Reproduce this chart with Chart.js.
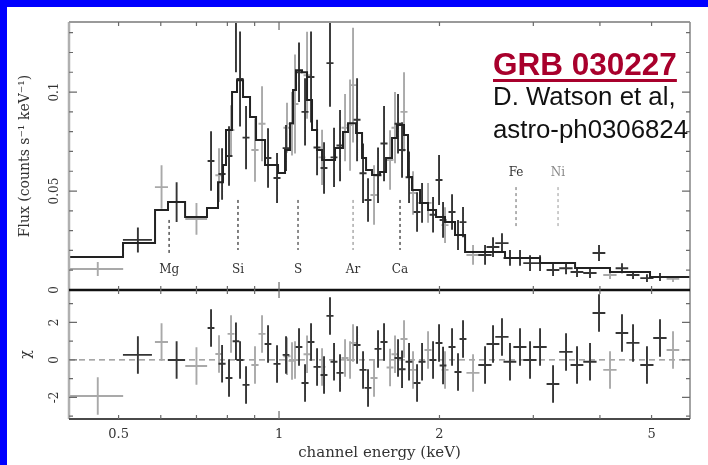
<!DOCTYPE html>
<html>
<head>
<meta charset="utf-8">
<script src="https://cdn.jsdelivr.net/npm/chart.js@4/dist/chart.umd.min.js"></script>
<style>
  html, body { margin: 0; padding: 0; background: #fff; }
  #wrap { position: relative; width: 708px; height: 465px; overflow: hidden; background: #fff; }
  #plot { position: absolute; left: 0; top: 0; filter: blur(0.6px); }
  .band-top { position: absolute; left: 0; top: 0; width: 708px; height: 7px; background: #0000ff; }
  .band-left { position: absolute; left: 0; top: 0; width: 7px; height: 465px; background: #0000ff; }
  .tag { position: absolute; left: 493px; font-family: "Liberation Sans", Arial, sans-serif; white-space: nowrap; }
  #grb { top: 49px; font-size: 31.5px; line-height: 31px; font-weight: bold; color: #a8002c;
         text-decoration: underline; text-decoration-thickness: 3px; text-underline-offset: 4px; }
  #cite { top: 80px; font-size: 25.8px; line-height: 32.5px; color: #111; }
</style>
</head>
<body>
<div id="wrap">
  <canvas id="plot" width="708" height="465"></canvas>
  <div class="band-top"></div>
  <div class="band-left"></div>
  <div class="tag" id="grb">GRB 030227</div>
  <div class="tag" id="cite">D. Watson et al,<br>astro-ph0306824</div>
</div>
<script>
// ---- EPIC pn spectrum (keV, counts s^-1 keV^-1) ----
const pnEnergy = [0.5435, 0.6425, 0.7455, 0.7819, 0.8057, 0.8303, 0.8450, 0.8672, 0.9536, 0.9914,
  1.0307, 1.0902, 1.1189, 1.1483, 1.1786, 1.2146, 1.2464, 1.2682, 1.3015, 1.4010,
  1.4376, 1.4689, 1.5337, 1.5740, 1.6721, 1.7013, 1.7535, 1.8154, 1.8550, 1.9453,
  1.9963, 2.0311, 2.1116, 2.1668, 2.2142, 2.4352, 2.5206, 2.6202, 2.7123, 2.8323,
  2.9576, 3.0884, 3.2668, 3.4552, 3.6233, 3.8325, 3.9844, 4.4004, 4.6150, 4.9018,
  5.1856];
const pnFlux = [0.0253, 0.0444, 0.0652, 0.0586, 0.0677, 0.1400, 0.1066, 0.0770, 0.0667, 0.0566,
  0.0717, 0.1100, 0.0900, 0.1076, 0.0720, 0.0616, 0.1146, 0.0670, 0.0730, 0.0860,
  0.0590, 0.0455, 0.0580, 0.0740, 0.0840, 0.0707, 0.0570, 0.0394, 0.0440, 0.0380,
  0.0556, 0.0354, 0.0394, 0.0278, 0.0343, 0.0177, 0.0217, 0.0237, 0.0162, 0.0162,
  0.0136, 0.0136, 0.0101, 0.0110, 0.0091, 0.0086, 0.0187, 0.0110, 0.0076, 0.0060,
  0.0066];
const pnFluxErr = [0.0063, 0.0100, 0.0150, 0.0130, 0.0150, 0.0300, 0.0240, 0.0160, 0.0150, 0.0126,
  0.0116, 0.0150, 0.0170, 0.0230, 0.0140, 0.0130, 0.0220, 0.0150, 0.0180, 0.0210,
  0.0150, 0.0110, 0.0140, 0.0190, 0.0150, 0.0140, 0.0130, 0.0100, 0.0100, 0.0090,
  0.0126, 0.0090, 0.0090, 0.0076, 0.0076, 0.0050, 0.0050, 0.0050, 0.0040, 0.0040,
  0.0040, 0.0040, 0.0030, 0.0030, 0.0025, 0.0025, 0.0040, 0.0025, 0.0020, 0.0020,
  0.0020];
const pnHalfWidth = [0.034, 0.024, 0.011, 0.012, 0.012, 0.012, 0.013, 0.013, 0.014, 0.015,
  0.015, 0.016, 0.017, 0.017, 0.018, 0.018, 0.019, 0.019, 0.020, 0.021,
  0.022, 0.022, 0.023, 0.024, 0.025, 0.026, 0.026, 0.027, 0.028, 0.029,
  0.030, 0.030, 0.032, 0.033, 0.033, 0.070, 0.070, 0.075, 0.075, 0.080,
  0.085, 0.090, 0.090, 0.100, 0.100, 0.110, 0.110, 0.120, 0.130, 0.140,
  0.150];
const pnResidual = [0.27, 0.00, 1.70, -0.20, -0.96, 1.00, 0.00, -1.33, 0.85, -0.21,
  0.27, 0.69, -1.23, 0.96, -0.37, -0.80, 2.35, -0.10, -0.69, 0.80,
  -0.53, -1.49, 0.59, 0.96, 0.10, -0.50, -0.10, -1.23, -0.10, 0.00,
  0.90, -0.30, 0.69, -0.64, 1.12, -0.27, 0.85, 1.23, -0.10, 0.69,
  0.00, 0.69, -1.28, 0.43, -0.27, -0.10, 2.50, 1.44, 0.91, -0.27,
  1.17];

// ---- EPIC MOS spectrum ----
const mosEnergy = [0.457, 0.602, 0.700, 0.7716, 0.8127, 0.9014, 0.9292, 1.0351, 1.0577, 1.0715,
  1.1287, 1.2043, 1.3300, 1.3591, 1.3768, 1.5075, 1.6155, 1.6505, 1.7160, 1.7841,
  1.9037, 2.0486, 2.3121, 4.1783, 5.4854];
const mosFlux = [0.0106, 0.0520, 0.0359, 0.0580, 0.0808, 0.0707, 0.0840, 0.0820, 0.0840, 0.0940,
  0.1085, 0.0670, 0.0820, 0.0833, 0.1035, 0.0480, 0.0657, 0.0820, 0.0900, 0.0490,
  0.0440, 0.0328, 0.0177, 0.0076, 0.0056];
const mosFluxErr = [0.0035, 0.0110, 0.0080, 0.0136, 0.0126, 0.0160, 0.0190, 0.0126, 0.0160, 0.0250,
  0.0220, 0.0140, 0.0170, 0.0230, 0.0290, 0.0150, 0.0150, 0.0180, 0.0200, 0.0110,
  0.0100, 0.0090, 0.0050, 0.0020, 0.0015];
const mosHalfWidth = [0.053, 0.017, 0.033, 0.012, 0.012, 0.014, 0.014, 0.016, 0.016, 0.016,
  0.017, 0.018, 0.020, 0.020, 0.021, 0.023, 0.024, 0.025, 0.026, 0.027,
  0.029, 0.031, 0.065, 0.120, 0.150];
const mosResidual = [-1.92, 0.96, -0.32, 0.32, 1.39, -0.27, 1.39, 0.20, -0.05, 0.00,
  0.30, -0.37, 0.10, 0.00, 0.91, -0.96, -0.40, 0.30, 1.12, -0.53,
  0.53, -0.53, -0.69, -0.53, 0.53];

// ---- folded model: bin edges (keV) and level in each bin ----
const modelEdges = [0.4036, 0.5097, 0.5853, 0.6190, 0.6664, 0.7326, 0.7683, 0.7851, 0.7953, 0.8163,
  0.8340, 0.8560, 0.8823, 0.9055, 0.9413, 0.9957, 1.0263, 1.0487, 1.0624, 1.0762,
  1.1045, 1.1287, 1.1532, 1.1786, 1.2043, 1.2737, 1.3184, 1.3473, 1.3949, 1.4314,
  1.4564, 1.4945, 1.5471, 1.5877, 1.6293, 1.6649, 1.7160, 1.7459, 1.7764, 1.8390,
  1.9037, 1.9706, 2.0486, 2.1390, 2.2338, 2.6548, 3.0884, 3.5929, 4.1783, 4.9668,
  5.9030];
const modelFlux = [0.0167, 0.0237, 0.0404, 0.0444, 0.0369, 0.0414, 0.0545, 0.0631, 0.0808, 0.1000,
  0.1060, 0.0975, 0.0874, 0.0758, 0.0631, 0.0591, 0.0707, 0.0843, 0.1010, 0.1110,
  0.1100, 0.0960, 0.0808, 0.0707, 0.0657, 0.0717, 0.0798, 0.0843, 0.0793, 0.0667,
  0.0606, 0.0581, 0.0596, 0.0667, 0.0768, 0.0833, 0.0783, 0.0571, 0.0505, 0.0439,
  0.0404, 0.0369, 0.0343, 0.0278, 0.0192, 0.0162, 0.0136, 0.0111, 0.0091, 0.0066];

// ---- redshifted emission lines (keV) ----
const lineNames = ['Mg', 'Si', 'S', 'Ar', 'Ca', 'Fe', 'Ni'];
const lineEnergies = [0.622, 0.8375, 1.0855, 1.377, 1.6866, 2.784, 3.338];

// ---- axes ----
const energyRange = [0.4036, 5.903];
const energyTickLabels = [0.5, 1, 2, 5];
const energyMinorTicks = [0.5, 0.6, 0.7, 0.8, 0.9, 1, 2, 3, 4, 5];
const fluxRange = [0, 0.1354];
const fluxTickLabels = [0, 0.05, 0.1];
const chiRange = [-3.15, 3.73];
const chiTickLabels = [-2, 0, 2];

const DARK = '#353535';
const GREY = '#a9a9a9';
const SERIF = '"DejaVu Serif", "Liberation Serif", serif';

const toPoints = (xs, ys) => xs.map((x, i) => ({ x: x, y: ys[i] }));

const modelPoints = [];
modelFlux.forEach((f, i) => {
  modelPoints.push({ x: modelEdges[i], y: f });
  modelPoints.push({ x: modelEdges[i + 1], y: f });
});

// marker layout for the line identifications: [top, bottom, label] in flux units
const markerStyle = {
  Mg: { span: [0.0354, 0.0187], label: 0.0101, color: '#555' },
  Si: { span: [0.0455, 0.0202], label: 0.0101, color: '#555' },
  S:  { span: [0.0455, 0.0202], label: 0.0101, color: '#666' },
  Ar: { span: [0.0455, 0.0202], label: 0.0101, color: '#aaa' },
  Ca: { span: [0.0455, 0.0202], label: 0.0101, color: '#555' },
  Fe: { span: [0.0520, 0.0318], label: 0.0590, color: '#999' },
  Ni: { span: [0.0520, 0.0318], label: 0.0590, color: '#bbb' }
};

function drawErrorBars(chart) {
  const ctx = chart.ctx;
  const x = chart.scales.x;
  chart.data.datasets.forEach(ds => {
    if (ds.yErr === undefined) return;
    const y = chart.scales[ds.yAxisID];
    ctx.save();
    ctx.beginPath();
    ctx.rect(x.left, y.top, x.right - x.left, y.bottom - y.top);
    ctx.clip();
    ctx.strokeStyle = ds.barColor;
    ctx.lineWidth = 1.9;
    ctx.beginPath();
    ds.data.forEach((p, k) => {
      const hw = ds.xErr[k];
      const e = Array.isArray(ds.yErr) ? ds.yErr[k] : ds.yErr;
      const px = x.getPixelForValue(p.x);
      const py = y.getPixelForValue(p.y);
      ctx.moveTo(x.getPixelForValue(p.x - hw), py);
      ctx.lineTo(x.getPixelForValue(p.x + hw), py);
      ctx.moveTo(px, y.getPixelForValue(p.y - e));
      ctx.lineTo(px, y.getPixelForValue(p.y + e));
    });
    ctx.stroke();
    ctx.restore();
  });
}

const spectrumPanels = {
  id: 'spectrumPanels',
  beforeDatasetsDraw(chart) {
    const { ctx, scales: { x, yFlux, yChi } } = chart;
    ctx.save();
    // chi = 0 reference
    ctx.strokeStyle = '#8a8a8a';
    ctx.lineWidth = 1.3;
    ctx.setLineDash([6, 4]);
    const y0 = yChi.getPixelForValue(0);
    ctx.beginPath();
    ctx.moveTo(x.left, y0);
    ctx.lineTo(x.right, y0);
    ctx.stroke();
    // line identifications
    ctx.setLineDash([3, 3]);
    ctx.lineWidth = 1.5;
    ctx.font = '12px ' + SERIF;
    ctx.textAlign = 'center';
    ctx.textBaseline = 'middle';
    lineNames.forEach((name, i) => {
      const st = markerStyle[name];
      const px = x.getPixelForValue(lineEnergies[i]);
      ctx.strokeStyle = st.color;
      ctx.beginPath();
      ctx.moveTo(px, yFlux.getPixelForValue(st.span[0]));
      ctx.lineTo(px, yFlux.getPixelForValue(st.span[1]));
      ctx.stroke();
      ctx.fillStyle = name === 'Ni' ? '#888' : '#333';
      ctx.fillText(name, px, yFlux.getPixelForValue(st.label));
    });
    ctx.restore();
    drawErrorBars(chart);
  },
  afterDatasetsDraw(chart) {
    const { ctx, scales: { x, yFlux, yChi } } = chart;
    ctx.save();
    // frame
    const seg = (x1, y1, x2, y2, c, w) => {
      ctx.strokeStyle = c; ctx.lineWidth = w;
      ctx.beginPath(); ctx.moveTo(x1, y1); ctx.lineTo(x2, y2); ctx.stroke();
    };
    seg(x.left, yFlux.top, x.left, yChi.bottom, '#b0b0b0', 2.5);
    seg(x.left, yFlux.top, x.right, yFlux.top, '#9a9a9a', 2);
    seg(x.right, yFlux.top, x.right, yChi.bottom, '#8c8c8c', 1.6);
    seg(x.left, yChi.bottom, x.right, yChi.bottom, '#4a4a4a', 2);
    seg(x.left, yFlux.bottom, x.right, yFlux.bottom, '#111', 2.5);
    // inward tick marks
    ctx.strokeStyle = '#6a6a6a';
    ctx.lineWidth = 1.2;
    ctx.beginPath();
    energyMinorTicks.forEach(v => {
      const px = x.getPixelForValue(v);
      const len = v === 1 ? 8 : 4;
      ctx.moveTo(px, yFlux.top); ctx.lineTo(px, yFlux.top + len);
      ctx.moveTo(px, yFlux.bottom - len); ctx.lineTo(px, yFlux.bottom + len);
      ctx.moveTo(px, yChi.bottom); ctx.lineTo(px, yChi.bottom - len);
    });
    for (let k = 1; k <= 13; k++) {
      const py = yFlux.getPixelForValue(k / 100);
      const len = k % 5 === 0 ? 8 : 4;
      ctx.moveTo(x.left, py); ctx.lineTo(x.left + len, py);
      ctx.moveTo(x.right, py); ctx.lineTo(x.right - len, py);
    }
    for (let k = -3; k <= 3; k++) {
      const py = yChi.getPixelForValue(k);
      const len = k % 2 === 0 ? 8 : 4;
      ctx.moveTo(x.left, py); ctx.lineTo(x.left + len, py);
      ctx.moveTo(x.right, py); ctx.lineTo(x.right - len, py);
    }
    ctx.stroke();
    // rotated y tick labels
    ctx.font = '12px ' + SERIF;
    ctx.fillStyle = '#333';
    ctx.textAlign = 'center';
    ctx.textBaseline = 'middle';
    const rotLabel = (txt, py) => {
      ctx.save();
      ctx.translate(55, py);
      ctx.rotate(-Math.PI / 2);
      ctx.fillText(txt, 0, 0);
      ctx.restore();
    };
    fluxTickLabels.forEach(v => rotLabel(String(v), yFlux.getPixelForValue(v)));
    chiTickLabels.forEach(v => rotLabel(String(v), yChi.getPixelForValue(v)));
    ctx.restore();
  }
};

Chart.defaults.color = '#333';

new Chart(document.getElementById('plot'), {
  type: 'scatter',
  data: {
    datasets: [
      { label: 'model', data: modelPoints, yAxisID: 'yFlux', showLine: true,
        borderColor: '#222', borderWidth: 2, pointRadius: 0, fill: false },
      { label: 'MOS', data: toPoints(mosEnergy, mosFlux), yAxisID: 'yFlux', pointRadius: 0,
        xErr: mosHalfWidth, yErr: mosFluxErr, barColor: GREY },
      { label: 'pn', data: toPoints(pnEnergy, pnFlux), yAxisID: 'yFlux', pointRadius: 0,
        xErr: pnHalfWidth, yErr: pnFluxErr, barColor: DARK },
      { label: 'MOS residual', data: toPoints(mosEnergy, mosResidual), yAxisID: 'yChi', pointRadius: 0,
        xErr: mosHalfWidth, yErr: 1, barColor: GREY },
      { label: 'pn residual', data: toPoints(pnEnergy, pnResidual), yAxisID: 'yChi', pointRadius: 0,
        xErr: pnHalfWidth, yErr: 1, barColor: DARK }
    ]
  },
  options: {
    responsive: false,
    animation: false,
    events: [],
    layout: { padding: { left: 0, right: 18, top: 22, bottom: 0 } },
    plugins: { legend: { display: false }, tooltip: { enabled: false } },
    scales: {
      x: {
        type: 'logarithmic', position: 'bottom',
        min: energyRange[0], max: energyRange[1],
        grid: { display: false, drawTicks: false },
        border: { display: false },
        afterBuildTicks: s => { s.ticks = energyTickLabels.map(v => ({ value: v })); },
        afterFit: s => { s.height = 46; },
        ticks: { autoSkip: false, maxRotation: 0, padding: 8, color: '#333',
                 font: { family: SERIF, size: 13 }, callback: v => String(v) },
        title: { display: true, text: 'channel energy (keV)', color: '#333',
                 font: { family: SERIF, size: 15 }, padding: { top: 0, bottom: 3 } }
      },
      yChi: {
        type: 'linear', position: 'left', stack: 'panels', stackWeight: 129,
        min: chiRange[0], max: chiRange[1],
        grid: { display: false, drawTicks: false }, border: { display: false },
        ticks: { display: false },
        afterFit: s => { s.width = 69; },
        title: { display: true, text: 'χ', color: '#333',
                 font: { family: SERIF, size: 14 }, padding: { top: 18, bottom: 0 } }
      },
      yFlux: {
        type: 'linear', position: 'left', stack: 'panels', stackWeight: 268,
        min: fluxRange[0], max: fluxRange[1],
        grid: { display: false, drawTicks: false }, border: { display: false },
        ticks: { display: false },
        afterFit: s => { s.width = 69; },
        title: { display: true, text: 'Flux (counts s⁻¹ keV⁻¹)', color: '#333',
                 font: { family: SERIF, size: 14 }, padding: { top: 17, bottom: 0 } }
      }
    }
  },
  plugins: [spectrumPanels]
});
</script>
</body>
</html>
